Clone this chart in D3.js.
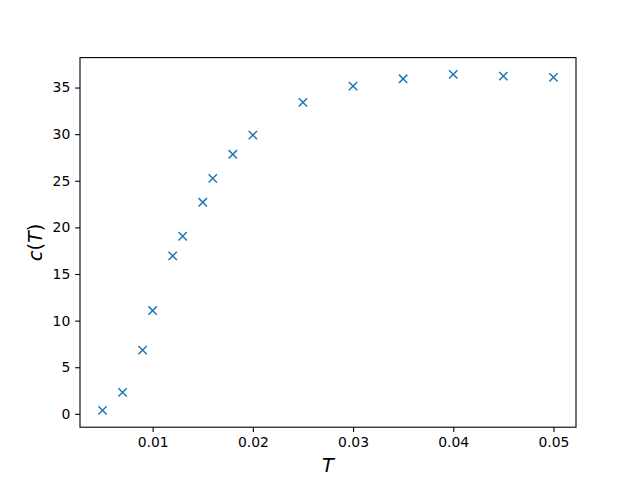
<!DOCTYPE html>
<html><head><meta charset="utf-8">
<script src="https://cdn.jsdelivr.net/npm/d3@7"></script>
<style>body{margin:0;background:#fff}svg{display:block}</style>
</head><body>
<svg id="c" width="640" height="480"></svg>
<script>
const temps = [0.005,0.007,0.009,0.010,0.012,0.013,0.015,0.016,0.018,0.020,0.025,0.030,0.035,0.040,0.045,0.050];
const cvals = [0.37,2.3,6.84,11.08,16.94,19.05,22.69,25.26,27.84,29.9,33.41,35.15,35.94,36.41,36.23,36.09];
const xTicks = [0.01,0.02,0.03,0.04,0.05];
const yTicks = [0,5,10,15,20,25,30,35];

const svg = d3.select('#c');
const L=80, R=576, T=57.6, B=427.2;
const xmin=d3.min(temps), xmax=d3.max(temps), ymin=d3.min(cvals), ymax=d3.max(cvals);
const xm=(xmax-xmin)*0.05, ym=(ymax-ymin)*0.05;
const x=d3.scaleLinear().domain([xmin-xm,xmax+xm]).range([L,R]);
const y=d3.scaleLinear().domain([ymin-ym,ymax+ym]).range([B,T]);
const font='DejaVu Sans, sans-serif';

const xa=svg.append('g').attr('transform',`translate(0,${B})`)
  .call(d3.axisBottom(x).tickValues(xTicks).tickFormat(d=>d3.format('.2f')(d)).tickSizeInner(4.86).tickSizeOuter(0).tickPadding(4.86));
const ya=svg.append('g').attr('transform',`translate(${L},0)`)
  .call(d3.axisLeft(y).tickValues(yTicks).tickFormat(d3.format('d')).tickSizeInner(4.86).tickSizeOuter(0).tickPadding(4.86));
[xa,ya].forEach(a=>{
  a.select('.domain').remove();
  a.selectAll('line').attr('stroke','#000').attr('stroke-width',1.1);
  a.selectAll('text').attr('font-family',font).attr('font-size','13.9px').attr('fill','#000');
});
svg.append('rect').attr('x',L).attr('y',T).attr('width',R-L).attr('height',B-T)
  .attr('fill','none').attr('stroke','#000').attr('stroke-width',1.1);

const s=4.17;
const g=svg.append('g');
temps.forEach((t,i)=>{
  const px=x(t), py=y(cvals[i]);
  g.append('path').attr('d',`M${px-s},${py-s}L${px+s},${py+s}M${px-s},${py+s}L${px+s},${py-s}`)
   .attr('stroke','#1f77b4').attr('stroke-width',1.5).attr('fill','none');
});

svg.append('text').attr('x',(L+R)/2).attr('y',472).attr('text-anchor','middle')
  .attr('font-family',font).attr('font-style','italic').attr('font-size','19.4px').text('T');
svg.append('text').attr('transform',`translate(42,${(T+B)/2}) rotate(-90)`).attr('text-anchor','middle')
  .attr('font-family',font).attr('font-size','19.4px')
  .html('<tspan font-style="italic">c</tspan>(<tspan font-style="italic">T</tspan>)');
</script>
</body></html>
